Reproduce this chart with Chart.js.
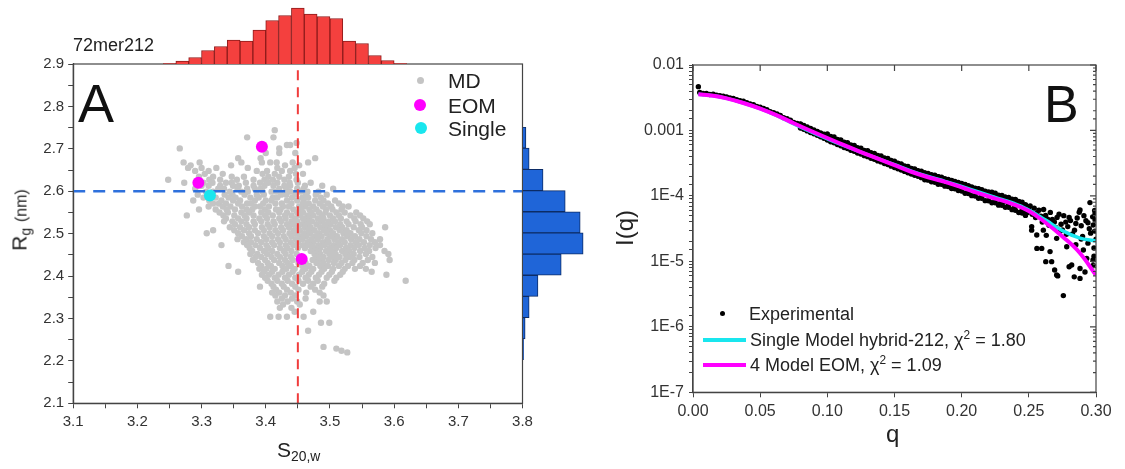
<!DOCTYPE html>
<html>
<head>
<meta charset="utf-8">
<script src="https://cdn.jsdelivr.net/npm/chart.js@4.4.0/dist/chart.umd.min.js"></script>
<style>
  html, body { margin: 0; padding: 0; background: #fff; }
  #wrap { position: relative; width: 1125px; height: 469px; overflow: hidden;
          font-family: "Liberation Sans", Arial, sans-serif; color: #222; }
  canvas { position: absolute; }
  .t { position: absolute; white-space: nowrap; line-height: 1; }
  .dot { position: absolute; border-radius: 50%; }
  .bar { position: absolute; }
  .rot { position: absolute; white-space: nowrap; line-height: 1;
         transform: translate(-50%, -50%) rotate(-90deg); }
  sub { font-size: 0.66em; vertical-align: -0.3em; line-height: 0; }
  sup { font-size: 0.66em; vertical-align: 0.55em; line-height: 0; }
</style>
</head>
<body>
<div id="wrap">
  <canvas id="chartA" style="left:0;top:0" width="560" height="469"></canvas>
  <canvas id="histTop" style="left:163px;top:6px" width="244" height="58"></canvas>
  <canvas id="histRight" style="left:523px;top:127px" width="62" height="233"></canvas>
  <canvas id="chartB" style="left:560px;top:0" width="565" height="469"></canvas>

  <!-- panel A texts -->
  <div class="t" style="left:73px;top:36px;font-size:18px;">72mer212</div>
  <div class="t" style="left:78px;top:76px;font-size:54px;color:#111;">A</div>
  <div class="dot" style="left:417px;top:77px;width:7px;height:7px;background:#c4c4c4;"></div>
  <div class="t" style="left:448px;top:70px;font-size:21px;">MD</div>
  <div class="dot" style="left:414px;top:99px;width:12px;height:12px;background:#ff00ff;"></div>
  <div class="t" style="left:448px;top:95px;font-size:21px;">EOM</div>
  <div class="dot" style="left:415px;top:122px;width:12px;height:12px;background:#19e6ee;"></div>
  <div class="t" style="left:448px;top:118px;font-size:21px;">Single</div>
  <div class="t" style="left:277px;top:439px;font-size:21px;">S<sub>20,w</sub></div>
  <div class="rot" style="left:19px;top:220px;font-size:21px;">R<sub>g</sub> <span style="font-size:16px">(nm)</span></div>

  <!-- panel B texts -->
  <div class="t" style="left:1044px;top:78px;font-size:52px;color:#111;">B</div>
  <div class="dot" style="left:720px;top:311px;width:5px;height:5px;background:#000;"></div>
  <div class="t" style="left:749px;top:305px;font-size:18px;">Experimental</div>
  <div class="bar" style="left:703px;top:338px;width:43px;height:4px;background:#19e6ee;"></div>
  <div class="t" style="left:750px;top:331px;font-size:18px;">Single Model hybrid-212, &chi;<sup>2</sup> = 1.80</div>
  <div class="bar" style="left:703px;top:363px;width:43px;height:4px;background:#ff00ff;"></div>
  <div class="t" style="left:750px;top:356px;font-size:18px;">4 Model EOM, &chi;<sup>2</sup> = 1.09</div>
  <div class="t" style="left:886px;top:422px;font-size:24px;">q</div>
  <div class="rot" style="left:625px;top:228px;font-size:24px;">I(q)</div>
</div>

<script>
// ─────────────────────────────────────────────────────────────
// DATA: panel A
// ─────────────────────────────────────────────────────────────
const sTicks  = [3.1, 3.15, 3.2, 3.25, 3.3, 3.35, 3.4, 3.45, 3.5, 3.55, 3.6, 3.65, 3.7, 3.75, 3.8];
const rgTicks = [2.1, 2.15, 2.2, 2.25, 2.3, 2.35, 2.4, 2.45, 2.5, 2.55, 2.6, 2.65, 2.7, 2.75, 2.8, 2.85, 2.9];

const meanS  = 3.45;
const meanRg = 2.60;

const eomS   = [3.394, 3.295, 3.456];
const eomRg  = [2.705, 2.620, 2.440];
const singleS  = [3.313];
const singleRg = [2.590];

// MD cloud, read row by row: [Rg, [S values]]
const mdRows = [
  [2.744, [3.414]],
  [2.727, [3.371, 3.412]],
  [2.714, [3.448]],
  [2.709, [3.433, 3.438]],
  [2.701, [3.266, 3.421]],
  [2.690, [3.400, 3.421, 3.446]],
  [2.678, [3.357, 3.392, 3.477]],
  [2.668, [3.272, 3.297, 3.362, 3.394, 3.407, 3.417, 3.442, 3.466]],
  [2.661, [3.283, 3.346, 3.430, 3.452]],
  [2.655, [3.279, 3.300, 3.323, 3.372, 3.418, 3.445]],
  [2.648, [3.290, 3.311, 3.386, 3.402, 3.425, 3.438]],
  [2.641, [3.305, 3.333, 3.395, 3.414, 3.447, 3.458]],
  [2.634, [3.296, 3.318, 3.347, 3.366, 3.404, 3.421, 3.436]],
  [2.627, [3.248, 3.312, 3.329, 3.355, 3.381, 3.398, 3.411, 3.429, 3.448]],
  [2.620, [3.273, 3.303, 3.317, 3.338, 3.347, 3.369, 3.391, 3.404, 3.418, 3.437, 3.450, 3.470]],
  [2.613, [3.300, 3.311, 3.329, 3.349, 3.358, 3.381, 3.398, 3.412, 3.429, 3.438, 3.461, 3.488]],
  [2.606, [3.290, 3.326, 3.335, 3.356, 3.371, 3.383, 3.392, 3.421, 3.432, 3.449, 3.459, 3.505]],
  [2.599, [3.307, 3.318, 3.344, 3.362, 3.372, 3.395, 3.409, 3.416, 3.438, 3.455, 3.465, 3.482]],
  [2.592, [3.294, 3.313, 3.336, 3.348, 3.367, 3.386, 3.397, 3.424, 3.432, 3.446, 3.463, 3.478, 3.495]],
  [2.585, [3.303, 3.322, 3.342, 3.353, 3.376, 3.389, 3.411, 3.418, 3.441, 3.457, 3.466, 3.486]],
  [2.578, [3.287, 3.312, 3.331, 3.349, 3.360, 3.383, 3.400, 3.409, 3.433, 3.449, 3.459, 3.477, 3.490, 3.508]],
  [2.571, [3.318, 3.327, 3.338, 3.357, 3.371, 3.377, 3.396, 3.415, 3.425, 3.440, 3.458, 3.467, 3.484, 3.497, 3.514]],
  [2.564, [3.311, 3.333, 3.345, 3.363, 3.383, 3.391, 3.405, 3.427, 3.436, 3.452, 3.461, 3.474, 3.489, 3.502, 3.520, 3.529]],
  [2.557, [3.296, 3.322, 3.339, 3.352, 3.370, 3.379, 3.399, 3.416, 3.423, 3.443, 3.455, 3.468, 3.479, 3.494, 3.504, 3.518]],
  [2.550, [3.328, 3.341, 3.362, 3.374, 3.393, 3.404, 3.421, 3.433, 3.449, 3.458, 3.471, 3.483, 3.493, 3.510, 3.523, 3.541]],
  [2.543, [3.277, 3.334, 3.351, 3.367, 3.381, 3.399, 3.411, 3.430, 3.440, 3.453, 3.465, 3.474, 3.488, 3.500, 3.514, 3.532, 3.547]],
  [2.536, [3.338, 3.357, 3.370, 3.390, 3.402, 3.421, 3.431, 3.446, 3.458, 3.467, 3.481, 3.490, 3.505, 3.517, 3.538, 3.552]],
  [2.529, [3.335, 3.348, 3.362, 3.381, 3.393, 3.412, 3.424, 3.440, 3.449, 3.463, 3.472, 3.486, 3.498, 3.508, 3.526, 3.540, 3.558]],
  [2.522, [3.352, 3.370, 3.383, 3.403, 3.414, 3.433, 3.443, 3.457, 3.465, 3.479, 3.492, 3.501, 3.516, 3.529, 3.548, 3.562]],
  [2.515, [3.344, 3.360, 3.374, 3.394, 3.406, 3.424, 3.436, 3.450, 3.461, 3.470, 3.485, 3.494, 3.509, 3.519, 3.537, 3.550, 3.586]],
  [2.508, [3.318, 3.351, 3.366, 3.383, 3.397, 3.415, 3.427, 3.444, 3.453, 3.467, 3.476, 3.491, 3.500, 3.515, 3.526, 3.545, 3.557]],
  [2.501, [3.308, 3.357, 3.374, 3.388, 3.406, 3.419, 3.437, 3.446, 3.460, 3.469, 3.483, 3.495, 3.505, 3.521, 3.532, 3.549, 3.566]],
  [2.494, [3.363, 3.377, 3.397, 3.410, 3.428, 3.440, 3.453, 3.463, 3.477, 3.487, 3.502, 3.511, 3.527, 3.539, 3.557]],
  [2.487, [3.356, 3.370, 3.386, 3.401, 3.419, 3.431, 3.447, 3.457, 3.471, 3.481, 3.496, 3.507, 3.519, 3.533, 3.546, 3.564, 3.578]],
  [2.480, [3.366, 3.377, 3.393, 3.410, 3.422, 3.439, 3.450, 3.465, 3.474, 3.489, 3.498, 3.513, 3.523, 3.540, 3.553, 3.570]],
  [2.473, [3.331, 3.371, 3.384, 3.401, 3.413, 3.431, 3.443, 3.458, 3.468, 3.482, 3.492, 3.506, 3.516, 3.532, 3.545, 3.562, 3.578]],
  [2.466, [3.375, 3.391, 3.404, 3.422, 3.434, 3.450, 3.461, 3.475, 3.485, 3.500, 3.510, 3.525, 3.538, 3.554, 3.571]],
  [2.459, [3.379, 3.397, 3.410, 3.428, 3.440, 3.470, 3.479, 3.494, 3.503, 3.519, 3.530, 3.547, 3.561, 3.585]],
  [2.452, [3.376, 3.387, 3.402, 3.418, 3.431, 3.448, 3.476, 3.485, 3.499, 3.509, 3.524, 3.537, 3.556, 3.591]],
  [2.445, [3.384, 3.393, 3.409, 3.422, 3.439, 3.479, 3.490, 3.505, 3.515, 3.531, 3.546, 3.566]],
  [2.438, [3.380, 3.399, 3.413, 3.430, 3.442, 3.473, 3.483, 3.498, 3.509, 3.524, 3.538, 3.559, 3.593]],
  [2.431, [3.388, 3.403, 3.421, 3.434, 3.451, 3.462, 3.479, 3.490, 3.506, 3.518, 3.535, 3.551, 3.570]],
  [2.424, [3.342, 3.393, 3.408, 3.426, 3.439, 3.457, 3.468, 3.485, 3.497, 3.514, 3.528, 3.547]],
  [2.417, [3.390, 3.401, 3.414, 3.432, 3.445, 3.462, 3.474, 3.491, 3.505, 3.523, 3.539, 3.556]],
  [2.410, [3.357, 3.397, 3.410, 3.426, 3.442, 3.457, 3.471, 3.487, 3.503, 3.520, 3.565]],
  [2.403, [3.394, 3.405, 3.420, 3.436, 3.452, 3.467, 3.483, 3.499, 3.516, 3.588]],
  [2.396, [3.399, 3.414, 3.430, 3.446, 3.462, 3.478, 3.495, 3.510]],
  [2.389, [3.403, 3.418, 3.434, 3.451, 3.466, 3.481, 3.507, 3.618]],
  [2.382, [3.409, 3.425, 3.441, 3.458, 3.474, 3.491]],
  [2.375, [3.391, 3.412, 3.428, 3.446, 3.470, 3.488]],
  [2.368, [3.416, 3.433, 3.451, 3.477]],
  [2.361, [3.410, 3.421, 3.439, 3.463, 3.484]],
  [2.354, [3.415, 3.430, 3.446, 3.490]],
  [2.347, [3.425, 3.441, 3.462]],
  [2.340, [3.418, 3.434, 3.449, 3.484, 3.495]],
  [2.333, [3.427, 3.453]],
  [2.325, [3.422, 3.440]],
  [2.316, [3.445, 3.474]],
  [2.304, [3.407, 3.420, 3.433, 3.459]],
  [2.290, [3.486, 3.499]],
  [2.271, [3.466]],
  [2.233, [3.490]],
  [2.229, [3.510]],
  [2.224, [3.518]],
  [2.220, [3.527]],
];

// top histogram (S bins 0.02 wide) and right histogram (Rg bins 0.05 wide)
const sBins   = ['3.25','3.27','3.29','3.31','3.33','3.35','3.37','3.39','3.41','3.43','3.45','3.47','3.49','3.51','3.53','3.55','3.57','3.59','3.61'];
const sCounts = [1, 6, 13, 27, 35, 48, 46, 68, 87, 97, 112, 100, 95, 91, 46, 41, 17, 7, 1];
const rgBins   = ['2.725','2.675','2.625','2.575','2.525','2.475','2.425','2.375','2.325','2.275','2.225'];
const rgCounts = [11, 23, 75, 158, 214, 225, 143, 56, 23, 8, 2];

// ─────────────────────────────────────────────────────────────
// DATA: panel B
// ─────────────────────────────────────────────────────────────
const qTicks = [0, 0.05, 0.10, 0.15, 0.20, 0.25, 0.30];

const expQ = [
  0.004, 0.005, 0.0075, 0.010, 0.0125, 0.015, 0.0175, 0.020, 0.0225, 0.025, 0.0275, 0.030, 0.0325, 0.035, 0.0375,
  0.040, 0.0425, 0.045, 0.0475, 0.050, 0.0525, 0.055, 0.0575, 0.060, 0.0625, 0.065, 0.0675, 0.070, 0.0725, 0.075,
  0.0775, 0.080, 0.0825, 0.085, 0.0875, 0.090, 0.0925, 0.095, 0.0975, 0.100, 0.1025, 0.105, 0.1075, 0.110, 0.1125,
  0.115, 0.1175, 0.120, 0.1225, 0.125, 0.1275, 0.130, 0.1325, 0.135, 0.1375, 0.140, 0.1425, 0.145, 0.1475, 0.150,
  0.1525, 0.155, 0.1575, 0.160, 0.1625, 0.165, 0.1675, 0.170, 0.1725, 0.175, 0.1775, 0.180, 0.1825, 0.185, 0.1875,
  0.190, 0.1925, 0.195, 0.1975, 0.200, 0.2025, 0.205, 0.2075, 0.210, 0.2125, 0.215, 0.2175, 0.220, 0.2225, 0.225,
  0.2275, 0.230, 0.2325, 0.235, 0.2375, 0.240, 0.2425, 0.245, 0.2475, 0.250, 0.2525, 0.255, 0.2575, 0.260, 0.2625,
  0.265, 0.2675, 0.270, 0.2725, 0.275, 0.2775, 0.280, 0.2825, 0.285, 0.2875, 0.290, 0.2925, 0.295, 0.2975, 0.300,
  // band edges between 0.08 and 0.1
  0.080, 0.0825, 0.085, 0.0875, 0.090, 0.0925, 0.095, 0.0975,
  0.080, 0.0825, 0.085, 0.0875, 0.090, 0.0925, 0.095, 0.0975,
  // lower edge of the band
  0.1025, 0.1075, 0.1125, 0.1175, 0.1225, 0.1275, 0.1325, 0.1375, 0.1425, 0.1475, 0.1525, 0.1575, 0.1625, 0.1675,
  0.1725, 0.1775, 0.1825, 0.1875, 0.1925, 0.1975, 0.2025, 0.2075, 0.2125, 0.2175, 0.2225, 0.2275, 0.2325, 0.2375,
  0.2425, 0.2475,
  0.100, 0.105, 0.110, 0.115, 0.120, 0.125, 0.130, 0.135, 0.140, 0.145, 0.150, 0.155, 0.160, 0.165, 0.170, 0.175,
  0.180, 0.185, 0.190, 0.195, 0.200, 0.205, 0.210, 0.215, 0.220, 0.225, 0.230, 0.235, 0.240, 0.245,
  // upper edge of the band
  0.100, 0.105, 0.110, 0.115, 0.120, 0.125, 0.130, 0.135, 0.140, 0.145, 0.150, 0.155, 0.160, 0.165, 0.170, 0.175,
  0.180, 0.185, 0.190, 0.195, 0.200, 0.205, 0.210, 0.215, 0.220, 0.225, 0.230, 0.235, 0.240, 0.245,
  0.1025, 0.1075, 0.1125, 0.1175, 0.1225, 0.1275, 0.1325, 0.1375, 0.1425, 0.1475, 0.1525, 0.1575, 0.1625, 0.1675,
  0.1725, 0.1775, 0.1825, 0.1875, 0.1925, 0.1975, 0.2025, 0.2075, 0.2125, 0.2175, 0.2225, 0.2275, 0.2325, 0.2375,
  0.2425, 0.2475,
  // extra points in the spread-out region
  0.131, 0.136, 0.141, 0.146, 0.151, 0.156, 0.161, 0.166, 0.171, 0.176, 0.181, 0.186, 0.191, 0.196,
  0.201, 0.206, 0.211, 0.216, 0.221, 0.226, 0.231, 0.236, 0.241, 0.246, 0.249, 0.2285, 0.239,
  0.2955, 0.2881, 0.2993, 0.2993, 0.2596, 0.2658, 0.267, 0.2707, 0.2715, 0.2757, 0.2819, 0.2881, 0.2881, 0.2931,
  0.2978, 0.2978, 0.2521, 0.2521, 0.2472, 0.2559, 0.2608, 0.2707, 0.2782, 0.2906, 0.2626, 0.2692, 0.280, 0.2838,
  0.2918, 0.256, 0.251, 0.254, 0.256, 0.259, 0.261, 0.264, 0.266, 0.269, 0.271, 0.274, 0.276, 0.279, 0.281, 0.284,
  0.286, 0.289, 0.291, 0.294, 0.296, 0.298, 0.299, 0.299, 0.278, 0.2735, 0.263, 0.289, 0.294, 0.2985, 0.2985, 0.285,
];
const expI = [
  4.67e-3, 3.80e-3, 3.67e-3, 3.67e-3, 3.55e-3, 3.59e-3, 3.47e-3, 3.39e-3, 3.35e-3, 3.24e-3, 3.13e-3, 3.07e-3, 2.94e-3, 2.84e-3, 2.79e-3,
  2.65e-3, 2.55e-3, 2.48e-3, 2.33e-3, 2.26e-3, 2.16e-3, 2.08e-3, 1.94e-3, 1.87e-3, 1.78e-3, 1.70e-3, 1.57e-3, 1.51e-3, 1.44e-3, 1.33e-3,
  1.28e-3, 1.23e-3, 1.14e-3, 1.09e-3, 1.05e-3, 9.73e-4, 9.46e-4, 8.89e-4, 8.36e-4, 8.13e-4, 7.64e-4, 7.35e-4, 6.82e-4, 6.71e-4, 6.24e-4,
  6.01e-4, 5.53e-4, 5.52e-4, 5.14e-4, 5.07e-4, 4.57e-4, 4.62e-4, 4.27e-4, 4.22e-4, 3.72e-4, 3.80e-4, 3.51e-4, 3.55e-4, 3.09e-4, 3.16e-4,
  3.13e-4, 2.75e-4, 2.79e-4, 2.57e-4, 2.60e-4, 2.28e-4, 2.38e-4, 2.18e-4, 2.25e-4, 1.97e-4, 2.04e-4, 1.91e-4, 1.97e-4, 1.68e-4, 1.78e-4,
  1.66e-4, 1.73e-4, 1.47e-4, 1.55e-4, 1.45e-4, 1.50e-4, 1.21e-4, 1.34e-4, 1.20e-4, 1.29e-4, 1.01e-4, 1.14e-4, 1.05e-4, 1.14e-4, 8.71e-5,
  1.01e-4, 8.67e-5, 9.60e-5, 7.35e-5, 8.51e-5, 7.21e-5, 8.24e-5, 6.08e-5, 7.11e-5, 6.17e-5, 5.25e-5, 4.68e-5, 6.03e-5, 3.98e-5, 5.01e-5,
  3.55e-5, 4.37e-5, 3.31e-5, 5.25e-5, 3.02e-5, 3.98e-5, 4.68e-5, 2.63e-5, 3.80e-5, 5.62e-5, 2.40e-5, 4.17e-5, 3.16e-5, 4.79e-5, 2.19e-5,
  // band edges between 0.08 and 0.1
  1.26e-3, 1.19e-3, 1.13e-3, 1.07e-3, 1.02e-3, 9.68e-4, 9.20e-4, 8.75e-4,
  1.09e-3, 1.04e-3, 9.84e-4, 9.33e-4, 8.87e-4, 8.43e-4, 8.02e-4, 7.62e-4,
  // lower edge of the band
  6.73e-4, 6.08e-4, 5.50e-4, 4.99e-4, 4.53e-4, 4.12e-4, 3.76e-4, 3.43e-4, 3.13e-4, 2.85e-4, 2.60e-4, 2.37e-4, 2.16e-4, 2.00e-4,
  1.77e-4, 1.64e-4, 1.51e-4, 1.41e-4, 1.30e-4, 1.21e-4, 1.10e-4, 1.01e-4, 9.23e-5, 8.47e-5, 7.87e-5, 7.23e-5, 6.71e-5, 6.17e-5,
  5.57e-5, 5.04e-5,
  7.16e-4, 6.47e-4, 5.85e-4, 5.30e-4, 4.81e-4, 4.37e-4, 3.98e-4, 3.63e-4, 3.31e-4, 3.02e-4, 2.72e-4, 2.48e-4, 2.26e-4, 2.06e-4, 1.90e-4, 1.74e-4,
  1.62e-4, 1.51e-4, 1.39e-4, 1.29e-4, 1.19e-4, 1.09e-4, 9.95e-5, 9.20e-5, 8.45e-5, 7.85e-5, 7.21e-5, 6.70e-5, 6.05e-5, 5.48e-5,
  // upper edge of the band
  8.81e-4, 7.96e-4, 7.19e-4, 6.52e-4, 5.92e-4, 5.37e-4, 4.90e-4, 4.47e-4, 4.07e-4, 3.72e-4, 3.39e-4, 3.09e-4, 2.82e-4, 2.59e-4, 2.39e-4, 2.21e-4,
  2.07e-4, 1.93e-4, 1.79e-4, 1.67e-4, 1.55e-4, 1.43e-4, 1.31e-4, 1.24e-4, 1.15e-4, 1.10e-4, 1.02e-4, 9.46e-5, 8.87e-5, 8.02e-5,
  8.09e-4, 7.31e-4, 6.61e-4, 6.00e-4, 5.45e-4, 4.95e-4, 4.57e-4, 4.17e-4, 3.80e-4, 3.47e-4, 3.16e-4, 2.88e-4, 2.63e-4, 2.43e-4,
  2.25e-4, 2.11e-4, 1.97e-4, 1.84e-4, 1.71e-4, 1.61e-4, 1.49e-4, 1.37e-4, 1.27e-4, 1.18e-4, 1.10e-4, 1.03e-4, 9.60e-5, 8.91e-5,
  8.15e-5, 7.36e-5,
  // extra points in the spread-out region
  4.45e-4, 4.00e-4, 3.62e-4, 3.30e-4, 2.98e-4, 2.85e-4, 2.48e-4, 2.33e-4, 2.12e-4, 1.92e-4, 1.84e-4, 1.74e-4, 1.56e-4, 1.52e-4,
  1.38e-4, 1.28e-4, 1.12e-4, 1.08e-4, 9.6e-5, 9.5e-5, 8.0e-5, 7.9e-5, 7.7e-5, 6.6e-5, 5.6e-5, 7.6e-5, 6.5e-5,
  7.9e-5, 6.1e-5, 5.4e-5, 4.3e-5, 1.58e-5, 1.41e-5, 9.9e-6, 6.2e-6, 6.0e-6, 3.0e-6, 8.8e-6, 7.8e-6, 5.5e-6, 1.11e-5,
  1.05e-5, 8.7e-6, 3.4e-5, 3.0e-5, 5.4e-5, 2.53e-5, 3.0e-5, 2.25e-5, 1.67e-5, 1.49e-5, 9.9e-6, 7.4e-6, 8.3e-6, 5.8e-6,
  6.9e-6, 1.58e-5, 7.0e-5, 6.5e-5, 5.5e-5, 4.9e-5, 6.2e-5, 4.4e-5, 5.6e-5, 4.0e-5, 4.7e-5, 3.7e-5, 5.0e-5, 3.4e-5, 4.2e-5, 3.0e-5,
  4.6e-5, 3.5e-5, 5.0e-5, 3.9e-5, 2.7e-5, 3.6e-5, 6.0e-5, 2.9e-5, 2.6e-5, 2.9e-5, 2.5e-5, 2.2e-5, 1.9e-5, 1.6e-5, 1.2e-5, 1.8e-5,
];

const fitQ = [0.004, 0.015, 0.025, 0.0375, 0.05, 0.0625, 0.075, 0.0875, 0.10, 0.1125, 0.125, 0.1375, 0.15, 0.1625,
              0.175, 0.1875, 0.20, 0.2125, 0.225, 0.2375, 0.25, 0.2625, 0.275, 0.2875, 0.30];
const eomFit = [3.56e-3, 3.39e-3, 3.09e-3, 2.63e-3, 2.16e-3, 1.70e-3, 1.29e-3, 9.89e-4, 7.67e-4, 5.96e-4, 4.68e-4, 3.72e-4, 2.95e-4, 2.34e-4,
                1.93e-4, 1.64e-4, 1.35e-4, 1.10e-4, 9.12e-5, 7.59e-5, 5.89e-5, 3.89e-5, 2.40e-5, 1.38e-5, 6.17e-6];
const singleFit = [3.56e-3, 3.39e-3, 3.09e-3, 2.63e-3, 2.15e-3, 1.68e-3, 1.26e-3, 9.60e-4, 7.45e-4, 5.85e-4, 4.66e-4, 3.74e-4, 3.00e-4, 2.40e-4,
                   1.98e-4, 1.67e-4, 1.40e-4, 1.15e-4, 9.50e-5, 7.90e-5, 6.10e-5, 4.27e-5, 2.95e-5, 2.29e-5, 2.04e-5];

// ─────────────────────────────────────────────────────────────
// HELPERS
// ─────────────────────────────────────────────────────────────
Chart.defaults.font.family = '"Liberation Sans", Arial, sans-serif';
Chart.defaults.color = '#333';

const AXIS = '#444';

function zip(xs, ys) {
  return xs.map((x, i) => ({ x, y: ys[i] }));
}

function isMajor(v) {
  return Math.abs(v * 10 - Math.round(v * 10)) < 1e-6;
}

function isPow10(v) {
  const l = Math.log10(v);
  return Math.abs(l - Math.round(l)) < 1e-6;
}

const logLabels = { '-2': '0.01', '-3': '0.001', '-4': '1E-4', '-5': '1E-5', '-6': '1E-6', '-7': '1E-7' };

// box round the plot area, with inward ticks on top/right if asked
const frame = {
  id: 'frame',
  afterDraw(chart, args, opts) {
    const { ctx, chartArea: a } = chart;
    ctx.save();
    ctx.strokeStyle = AXIS;
    ctx.lineWidth = 1.2;
    ctx.strokeRect(a.left, a.top, a.right - a.left, a.bottom - a.top);
    if (opts && opts.mirror) {
      const xs = chart.scales.x, ys = chart.scales.y;
      ctx.beginPath();
      xs.ticks.forEach(t => {
        const px = xs.getPixelForValue(t.value);
        ctx.moveTo(px, a.top); ctx.lineTo(px, a.top + 6);
      });
      ys.ticks.forEach(t => {
        const py = ys.getPixelForValue(t.value);
        ctx.moveTo(a.right, py); ctx.lineTo(a.right - (isPow10(t.value) ? 6 : 3), py);
      });
      ctx.stroke();
    }
    ctx.restore();
  }
};

// ─────────────────────────────────────────────────────────────
// PANEL A: scatter
// ─────────────────────────────────────────────────────────────
const mdPts = [];
mdRows.forEach(([rg, ss]) => ss.forEach(s => mdPts.push({ x: s, y: rg })));

new Chart(document.getElementById('chartA'), {
  type: 'scatter',
  plugins: [frame],
  data: {
    datasets: [
      { label: 'EOM', data: zip(eomS, eomRg), pointRadius: 6, backgroundColor: '#ff00ff', borderWidth: 0, order: 0 },
      { label: 'Single', data: zip(singleS, singleRg), pointRadius: 6, backgroundColor: '#19e6ee', borderWidth: 0, order: 0 },
      { type: 'line', data: [{ x: meanS, y: 2.1 }, { x: meanS, y: 2.9 }], borderColor: '#f03c3c',
        borderDash: [10, 7], borderWidth: 2, pointRadius: 0, order: 1 },
      { type: 'line', data: [{ x: 3.1, y: meanRg }, { x: 3.8, y: meanRg }], borderColor: '#2e70dc',
        borderDash: [12, 8], borderWidth: 2.5, pointRadius: 0, order: 1 },
      { label: 'MD', data: mdPts, pointRadius: 3.2, backgroundColor: '#c4c4c4', borderWidth: 0, order: 2 },
    ]
  },
  options: {
    responsive: false,
    devicePixelRatio: 1,
    animation: false,
    layout: { padding: { left: 0, top: 64, right: 37.5, bottom: 0 } },
    plugins: { legend: { display: false }, tooltip: { enabled: false }, frame: {} },
    scales: {
      x: {
        type: 'linear', min: 3.1, max: 3.8,
        afterBuildTicks: s => { s.ticks = sTicks.map(v => ({ value: v })); },
        afterFit: s => { s.height = 65.7; },
        ticks: { autoSkip: false, maxRotation: 0, padding: 5, font: { size: 15 },
                 callback: v => isMajor(v) ? v.toFixed(1) : '' },
        grid: { drawOnChartArea: false, tickLength: 5, color: AXIS },
        border: { color: AXIS, width: 1.2 },
      },
      y: {
        type: 'linear', min: 2.1, max: 2.9,
        afterBuildTicks: s => { s.ticks = rgTicks.map(v => ({ value: v })); },
        afterFit: s => { s.width = 73.2; },
        ticks: { autoSkip: false, padding: 4, font: { size: 15 },
                 callback: v => isMajor(v) ? v.toFixed(1) : '' },
        grid: { drawOnChartArea: false, tickLength: 5, color: AXIS },
        border: { color: AXIS, width: 1.2 },
      }
    }
  }
});

// ─────────────────────────────────────────────────────────────
// PANEL A: marginal histograms
// ─────────────────────────────────────────────────────────────
new Chart(document.getElementById('histTop'), {
  type: 'bar',
  data: {
    labels: sBins,
    datasets: [{ data: sCounts, backgroundColor: '#f4403e', borderColor: '#8e1b1b', borderWidth: 1,
                 barPercentage: 1, categoryPercentage: 1 }]
  },
  options: {
    responsive: false, devicePixelRatio: 1, animation: false,
    layout: { padding: 0 },
    plugins: { legend: { display: false }, tooltip: { enabled: false } },
    scales: {
      x: { display: false },
      y: { display: false, min: 0, max: 116 }
    }
  }
});

new Chart(document.getElementById('histRight'), {
  type: 'bar',
  data: {
    labels: rgBins,
    datasets: [{ data: rgCounts, backgroundColor: '#1f65d8', borderColor: '#0c2c66', borderWidth: 1,
                 barPercentage: 1, categoryPercentage: 1 }]
  },
  options: {
    indexAxis: 'y',
    responsive: false, devicePixelRatio: 1, animation: false,
    layout: { padding: 0 },
    plugins: { legend: { display: false }, tooltip: { enabled: false } },
    scales: {
      x: { display: false, min: 0, max: 232 },
      y: { display: false }
    }
  }
});

// ─────────────────────────────────────────────────────────────
// PANEL B: I(q)
// ─────────────────────────────────────────────────────────────
new Chart(document.getElementById('chartB'), {
  type: 'scatter',
  plugins: [frame],
  data: {
    datasets: [
      { label: '4 Model EOM', type: 'line', data: zip(fitQ, eomFit), borderColor: '#ff00ff', borderWidth: 4,
        pointRadius: 0, tension: 0.4, order: 0 },
      { label: 'Single Model hybrid-212', type: 'line', data: zip(fitQ, singleFit), borderColor: '#19e6ee', borderWidth: 3.5,
        pointRadius: 0, tension: 0.4, order: 1 },
      { label: 'Experimental', data: zip(expQ, expI), pointRadius: 2.7, backgroundColor: '#000', borderWidth: 0, order: 2 },
    ]
  },
  options: {
    responsive: false,
    devicePixelRatio: 1,
    animation: false,
    layout: { padding: { left: 0, top: 65, right: 29, bottom: 0 } },
    plugins: { legend: { display: false }, tooltip: { enabled: false }, frame: { mirror: true } },
    scales: {
      x: {
        type: 'linear', min: 0, max: 0.3,
        afterBuildTicks: s => { s.ticks = qTicks.map(v => ({ value: v })); },
        afterFit: s => { s.height = 76.7; },
        ticks: { autoSkip: false, maxRotation: 0, padding: 5, font: { size: 16 },
                 callback: v => v.toFixed(2) },
        grid: { drawOnChartArea: false, tickLength: 5, color: AXIS },
        border: { color: AXIS, width: 1.2 },
      },
      y: {
        type: 'logarithmic', min: 1e-7, max: 1e-2,
        afterFit: s => { s.width = 133; },
        ticks: { autoSkip: false, padding: 5, font: { size: 16 },
                 callback: v => isPow10(v) ? logLabels[String(Math.round(Math.log10(v)))] : '' },
        grid: { drawOnChartArea: false, tickLength: 4, color: AXIS },
        border: { color: AXIS, width: 1.2 },
      }
    }
  }
});
</script>
</body>
</html>
